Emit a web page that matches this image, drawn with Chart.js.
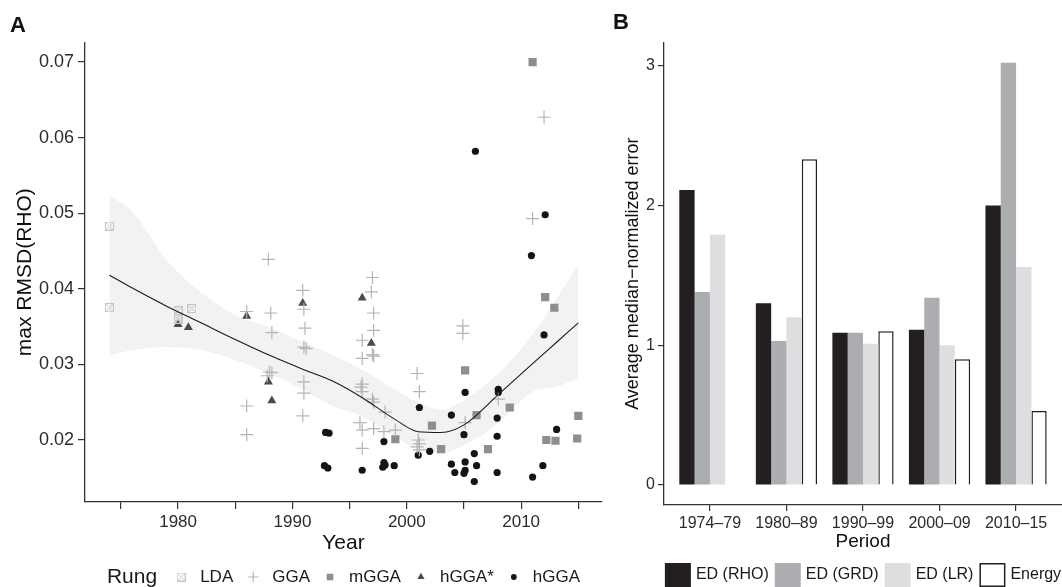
<!DOCTYPE html>
<html>
<head>
<meta charset="utf-8">
<script src="https://cdn.jsdelivr.net/npm/chart.js@4.4.1/dist/chart.umd.min.js"></script>
<style>
  body { margin: 0; background: #fff; }
  #wrap { position: relative; width: 1062px; height: 587px; overflow: hidden; }
  #rungChart { position: absolute; left: 0; top: 0; }
  #periodChart { position: absolute; left: 605px; top: 0; }
</style>
</head>
<body>
<div id="wrap">
  <canvas id="rungChart" width="615" height="587"></canvas>
  <canvas id="periodChart" width="457" height="587"></canvas>
</div>
<script>
// ---- panel A: max RMSD(RHO) by year, one list of [year, value] per rung ----
var ldaPoints = [[1974, 0.0483], [1974, 0.0375], [1980, 0.0371], [1980, 0.0363], [1980, 0.0360], [1981.2, 0.0374]];
var ggaPoints = [
    [1986, 0.0370], [1986, 0.0245], [1986, 0.0207],
    [1987.9, 0.0439], [1988.1, 0.0368], [1988.2, 0.0342], [1988, 0.0290], [1988.2, 0.0289], [1987.8, 0.0285],
    [1990.9, 0.0398], [1991, 0.0373], [1991.1, 0.0348], [1991, 0.0323], [1991.2, 0.0321], [1991, 0.0277], [1991, 0.0262], [1990.9, 0.0232],
    [1996.1, 0.0332], [1996.1, 0.0308], [1996.1, 0.0274], [1996, 0.0270], [1996.1, 0.0264], [1995.9, 0.0223], [1996.1, 0.0213], [1996.1, 0.0189],
    [1997, 0.0415], [1996.9, 0.0396], [1997.1, 0.0368], [1997.1, 0.0345], [1997, 0.0313], [1997.1, 0.0311], [1997, 0.0254], [1997.1, 0.0250], [1997.1, 0.0215],
    [1998.1, 0.0237], [1998, 0.0211], [1999, 0.0213],
    [2000.9, 0.0288], [2001.1, 0.0264], [2001, 0.0200], [2001.1, 0.0195], [2000.9, 0.0191], [2001.1, 0.0187],
    [2004.9, 0.0351], [2004.9, 0.0341], [2005.1, 0.0223], [2008, 0.0254], [2011, 0.0493], [2012, 0.0627]
];
var mggaPoints = [
    [1999, 0.0201], [2002.2, 0.0219], [2003, 0.0188], [2005.1, 0.0292], [2006.1, 0.0233], [2007.1, 0.0188], [2009, 0.0243],
    [2011, 0.0700], [2012.1, 0.0389], [2012.9, 0.0375], [2012.2, 0.0200], [2013, 0.0199], [2015, 0.0232], [2014.9, 0.0202]
];
var hggaStarPoints = [[1980, 0.0353], [1980.9, 0.0349], [1986, 0.0364], [1987.9, 0.0277], [1988.2, 0.0252], [1990.9, 0.0381], [1996.1, 0.0388], [1996.9, 0.0328]];
var hggaPoints = [
    [1992.9, 0.0210], [1993.2, 0.0209], [1992.8, 0.0166], [1993.1, 0.0163],
    [1996.1, 0.0160], [1998, 0.0198], [1998, 0.0170], [1998.1, 0.0167], [1997.9, 0.0164], [1998.9, 0.0166],
    [2001.1, 0.0243], [2001, 0.0180], [2002, 0.0185], [2003.9, 0.0233], [2003.9, 0.0168], [2004.2, 0.0157],
    [2005.1, 0.0263], [2005, 0.0207], [2005.1, 0.0171], [2005.1, 0.0160], [2005, 0.0156],
    [2005.9, 0.0182], [2006.1, 0.0166], [2005.9, 0.0145], [2006, 0.0582],
    [2008, 0.0267], [2008, 0.0263], [2007.9, 0.0229], [2007.9, 0.0205], [2007.9, 0.0157],
    [2010.9, 0.0444], [2011, 0.0151], [2011.9, 0.0166], [2012, 0.0339], [2012.1, 0.0498], [2013.1, 0.0214]
];

// smoothed trend and its confidence band
var trendYears = [1974, 1976, 1979, 1982, 1985, 1988, 1991, 1993.5, 1996, 1999, 2001, 2003, 2005, 2008, 2011, 2013, 2015];
var trendFit = [0.0418, 0.0401, 0.0377, 0.0355, 0.0333, 0.0312, 0.0293, 0.0278, 0.0257, 0.0227, 0.0211, 0.0210, 0.0220, 0.0260, 0.0301, 0.0328, 0.0355];
var trendLow = [0.0312, 0.0319, 0.0323, 0.0319, 0.0306, 0.0288, 0.0266, 0.0245, 0.0232, 0.0204, 0.0187, 0.0182, 0.0193, 0.0222, 0.0264, 0.0270, 0.0282];
var trendHigh = [0.0523, 0.0502, 0.0438, 0.0395, 0.0365, 0.0349, 0.0329, 0.0312, 0.0294, 0.0266, 0.0250, 0.0240, 0.0253, 0.0288, 0.0340, 0.0385, 0.0432];

var yearTicks = [1975, 1980, 1985, 1990, 1995, 2000, 2005, 2010, 2015];
var yearLabels = ['', '1980', '', '1990', '', '2000', '', '2010', ''];
var rmsdTicks = [0.02, 0.03, 0.04, 0.05, 0.06, 0.07];
var rmsdLabels = ['0.02', '0.03', '0.04', '0.05', '0.06', '0.07'];

// ---- panel B: average median-normalized error by period ----
var periods = ['1974\u201379', '1980\u201389', '1990\u201399', '2000\u201309', '2010\u201315'];
var edRho = [2.11, 1.30, 1.09, 1.11, 2.00];
var edGrd = [1.38, 1.03, 1.09, 1.34, 3.02];
var edLr = [1.79, 1.20, 1.01, 1.00, 1.56];
var energy = [null, 2.33, 1.10, 0.90, 0.53];
var errorTicks = [0, 1, 2, 3];

Chart.defaults.font.family = "'Liberation Sans', Arial, sans-serif";
Chart.defaults.color = '#2b2b2b';

function toXY(pairs) {
    return pairs.map(function (p) { return { x: p[0], y: p[1] }; });
}

function crossedSquare(size, color) {
    var c = document.createElement('canvas');
    c.width = size; c.height = size;
    var g = c.getContext('2d');
    g.strokeStyle = color;
    g.lineWidth = 1;
    g.strokeRect(0.5, 0.5, size - 1, size - 1);
    g.beginPath();
    g.moveTo(1.5, 1.5); g.lineTo(size - 1.5, size - 1.5);
    g.moveTo(size - 1.5, 1.5); g.lineTo(1.5, size - 1.5);
    g.stroke();
    return c;
}

// legend drawn as one row under the x axis title, centred on the plot area
var rowLegend = {
    id: 'rowLegend',
    afterDraw: function (chart, args, opts) {
        var ctx = chart.ctx;
        var items = chart.data.datasets.filter(function (d) { return d.inLegend; });
        var area = chart.chartArea;
        ctx.save();
        ctx.textBaseline = 'middle';
        ctx.textAlign = 'left';
        var titleW = 0;
        if (opts.title) {
            ctx.font = opts.titleFont;
            titleW = ctx.measureText(opts.title).width + opts.titleGap;
        }
        ctx.font = opts.font;
        var total = titleW;
        items.forEach(function (d, i) {
            total += opts.keyW + opts.keyGap + ctx.measureText(d.label).width;
            if (i < items.length - 1) total += opts.itemGap;
        });
        var x = (area.left + area.right) / 2 - total / 2;
        var y = opts.y;
        if (opts.title) {
            ctx.font = opts.titleFont;
            ctx.fillStyle = '#1a1a1a';
            ctx.fillText(opts.title, x, y);
            x += titleW;
            ctx.font = opts.font;
        }
        items.forEach(function (d) {
            if (opts.boxes) {
                ctx.fillStyle = d.backgroundColor;
                ctx.fillRect(x, y - opts.keyH / 2, opts.keyW, opts.keyH);
                if (d.borderWidth) {
                    ctx.lineWidth = d.borderWidth;
                    ctx.strokeStyle = d.borderColor;
                    ctx.strokeRect(x + 0.75, y - opts.keyH / 2 + 0.75, opts.keyW - 1.5, opts.keyH - 1.5);
                }
            } else {
                ctx.fillStyle = d.backgroundColor;
                ctx.strokeStyle = d.borderColor;
                ctx.lineWidth = d.borderWidth;
                Chart.helpers.drawPoint(ctx, {
                    pointStyle: d.pointStyle,
                    radius: d.pointRadius * opts.markerScale,
                    borderWidth: d.borderWidth,
                    rotation: 0
                }, x + opts.keyW / 2, y);
            }
            x += opts.keyW + opts.keyGap;
            ctx.fillStyle = '#1a1a1a';
            ctx.fillText(d.label, x, y);
            x += ctx.measureText(d.label).width + opts.itemGap;
        });
        ctx.restore();
    }
};

var axisGrid = { drawOnChartArea: false, drawTicks: true, color: '#333', lineWidth: 1.2 };

document.addEventListener('DOMContentLoaded', function () {
    var ldaMark = crossedSquare(9, '#c4c4c4');

    new Chart(document.getElementById('rungChart'), {
        type: 'scatter',
        data: {
            datasets: [{
                type: 'line',
                label: 'band upper',
                data: trendYears.map(function (x, i) { return { x: x, y: trendHigh[i] }; }),
                borderColor: 'rgba(0,0,0,0)',
                backgroundColor: '#f2f2f2',
                pointRadius: 0,
                fill: '+1',
                cubicInterpolationMode: 'monotone',
                order: 5
            }, {
                type: 'line',
                label: 'band lower',
                data: trendYears.map(function (x, i) { return { x: x, y: trendLow[i] }; }),
                borderColor: 'rgba(0,0,0,0)',
                pointRadius: 0,
                fill: false,
                cubicInterpolationMode: 'monotone',
                order: 5
            }, {
                label: 'LDA',
                inLegend: true,
                data: toXY(ldaPoints),
                pointStyle: ldaMark,
                pointRadius: 5,
                backgroundColor: '#c4c4c4',
                borderColor: '#c4c4c4',
                borderWidth: 1,
                order: 2
            }, {
                label: 'GGA',
                inLegend: true,
                data: toXY(ggaPoints),
                pointStyle: 'cross',
                pointRadius: 6.5,
                backgroundColor: '#b4b4b4',
                borderColor: '#b4b4b4',
                borderWidth: 1.2,
                order: 2
            }, {
                label: 'mGGA',
                inLegend: true,
                data: toXY(mggaPoints),
                pointStyle: 'rect',
                pointRadius: 5.8,
                backgroundColor: '#8e8e8e',
                borderColor: '#8e8e8e',
                borderWidth: 0,
                order: 2
            }, {
                label: 'hGGA*',
                inLegend: true,
                data: toXY(hggaStarPoints),
                pointStyle: 'triangle',
                pointRadius: 5.2,
                backgroundColor: '#4a4a4a',
                borderColor: '#4a4a4a',
                borderWidth: 0,
                order: 2
            }, {
                label: 'hGGA',
                inLegend: true,
                data: toXY(hggaPoints),
                pointStyle: 'circle',
                pointRadius: 3.6,
                backgroundColor: '#141414',
                borderColor: '#141414',
                borderWidth: 0,
                order: 2
            }, {
                type: 'line',
                label: 'trend',
                data: trendYears.map(function (x, i) { return { x: x, y: trendFit[i] }; }),
                borderColor: '#1a1a1a',
                borderWidth: 1.1,
                pointRadius: 0,
                fill: false,
                cubicInterpolationMode: 'monotone',
                order: 1
            }]
        },
        options: {
            responsive: false,
            animation: false,
            events: [],
            layout: { padding: { left: 10, right: 13, top: 0, bottom: 27 } },
            plugins: {
                legend: { display: false },
                tooltip: { enabled: false },
                title: {
                    display: true, text: 'A', align: 'start', color: '#111',
                    font: { size: 22, weight: 'bold' }, padding: { top: 13, bottom: 3 }
                },
                rowLegend: {
                    y: 577, title: 'Rung', titleFont: "21px 'Liberation Sans', Arial, sans-serif",
                    font: "17px 'Liberation Sans', Arial, sans-serif", titleGap: 18,
                    keyW: 12, keyGap: 13, itemGap: 14, markerScale: 0.8
                }
            },
            scales: {
                x: {
                    type: 'linear', min: 1971.86, max: 2017.07,
                    afterBuildTicks: function (s) { s.ticks = yearTicks.map(function (v) { return { value: v }; }); },
                    afterFit: function (s) { s.height = 58; },
                    ticks: {
                        autoSkip: false, maxRotation: 0, padding: 3, color: '#2b2b2b', font: { size: 17 },
                        callback: function (v, i) { return yearLabels[i]; }
                    },
                    grid: Object.assign({ tickLength: 7 }, axisGrid),
                    border: { display: true, color: '#333', width: 1.3 },
                    title: { display: true, text: 'Year', color: '#111', font: { size: 21 }, padding: { top: 0, bottom: 4 } }
                },
                y: {
                    min: 0.0118, max: 0.0726,
                    afterBuildTicks: function (s) { s.ticks = rmsdTicks.map(function (v) { return { value: v }; }); },
                    afterFit: function (s) { s.width = 75; },
                    ticks: {
                        autoSkip: false, padding: 4, color: '#2b2b2b', font: { size: 18 },
                        callback: function (v, i) { return rmsdLabels[i]; }
                    },
                    grid: Object.assign({ tickLength: 7 }, axisGrid),
                    border: { display: true, color: '#333', width: 1.3 },
                    title: { display: true, text: 'max RMSD(RHO)', color: '#111', font: { size: 21 }, padding: { top: 3, bottom: 0 } }
                }
            }
        },
        plugins: [rowLegend]
    });

    function bars(values) {
        return values.map(function (v, i) { return { x: i, y: v }; });
    }

    new Chart(document.getElementById('periodChart'), {
        type: 'bar',
        data: {
            datasets: [
                { label: 'ED (RHO)', inLegend: true, data: bars(edRho), backgroundColor: '#231f20', borderWidth: 0 },
                { label: 'ED (GRD)', inLegend: true, data: bars(edGrd), backgroundColor: '#acadb0', borderWidth: 0 },
                { label: 'ED (LR)', inLegend: true, data: bars(edLr), backgroundColor: '#dddee0', borderWidth: 0 },
                { label: 'Energy', inLegend: true, data: bars(energy), backgroundColor: '#ffffff', borderColor: '#231f20', borderWidth: 1.5 }
            ]
        },
        options: {
            responsive: false,
            animation: false,
            events: [],
            datasets: { bar: { categoryPercentage: 0.8, barPercentage: 1 } },
            layout: { padding: { left: 8, right: 0, top: 0, bottom: 30 } },
            plugins: {
                legend: { display: false },
                tooltip: { enabled: false },
                title: {
                    display: true, text: 'B', align: 'start', color: '#111',
                    font: { size: 22, weight: 'bold' }, padding: { top: 10, bottom: 6 }
                },
                rowLegend: {
                    y: 575, boxes: true, font: "16px 'Liberation Sans', Arial, sans-serif",
                    keyW: 26, keyH: 24, keyGap: 5, itemGap: 6
                }
            },
            scales: {
                x: {
                    type: 'linear', min: -0.6, max: 4.6, offset: false,
                    afterBuildTicks: function (s) { s.ticks = periods.map(function (p, i) { return { value: i }; }); },
                    afterFit: function (s) { s.height = 52; },
                    ticks: {
                        autoSkip: false, maxRotation: 0, padding: 3, color: '#2b2b2b', font: { size: 16 },
                        callback: function (v, i) { return periods[i]; }
                    },
                    grid: Object.assign({ tickLength: 6, offset: false }, axisGrid),
                    border: { display: true, color: '#333', width: 1.3 },
                    title: { display: true, text: 'Period', color: '#111', font: { size: 19 }, padding: { top: 0, bottom: 4 } }
                },
                y: {
                    min: -0.143, max: 3.166,
                    afterBuildTicks: function (s) { s.ticks = errorTicks.map(function (v) { return { value: v }; }); },
                    afterFit: function (s) { s.width = 51; },
                    ticks: { autoSkip: false, padding: 3, color: '#2b2b2b', font: { size: 16 } },
                    grid: Object.assign({ tickLength: 6 }, axisGrid),
                    border: { display: true, color: '#333', width: 1.3 },
                    title: { display: true, text: 'Average median\u2212normalized error', color: '#111', font: { size: 18 }, padding: { top: 9, bottom: 0 } }
                }
            }
        },
        plugins: [rowLegend]
    });
});
</script>
</body>
</html>
